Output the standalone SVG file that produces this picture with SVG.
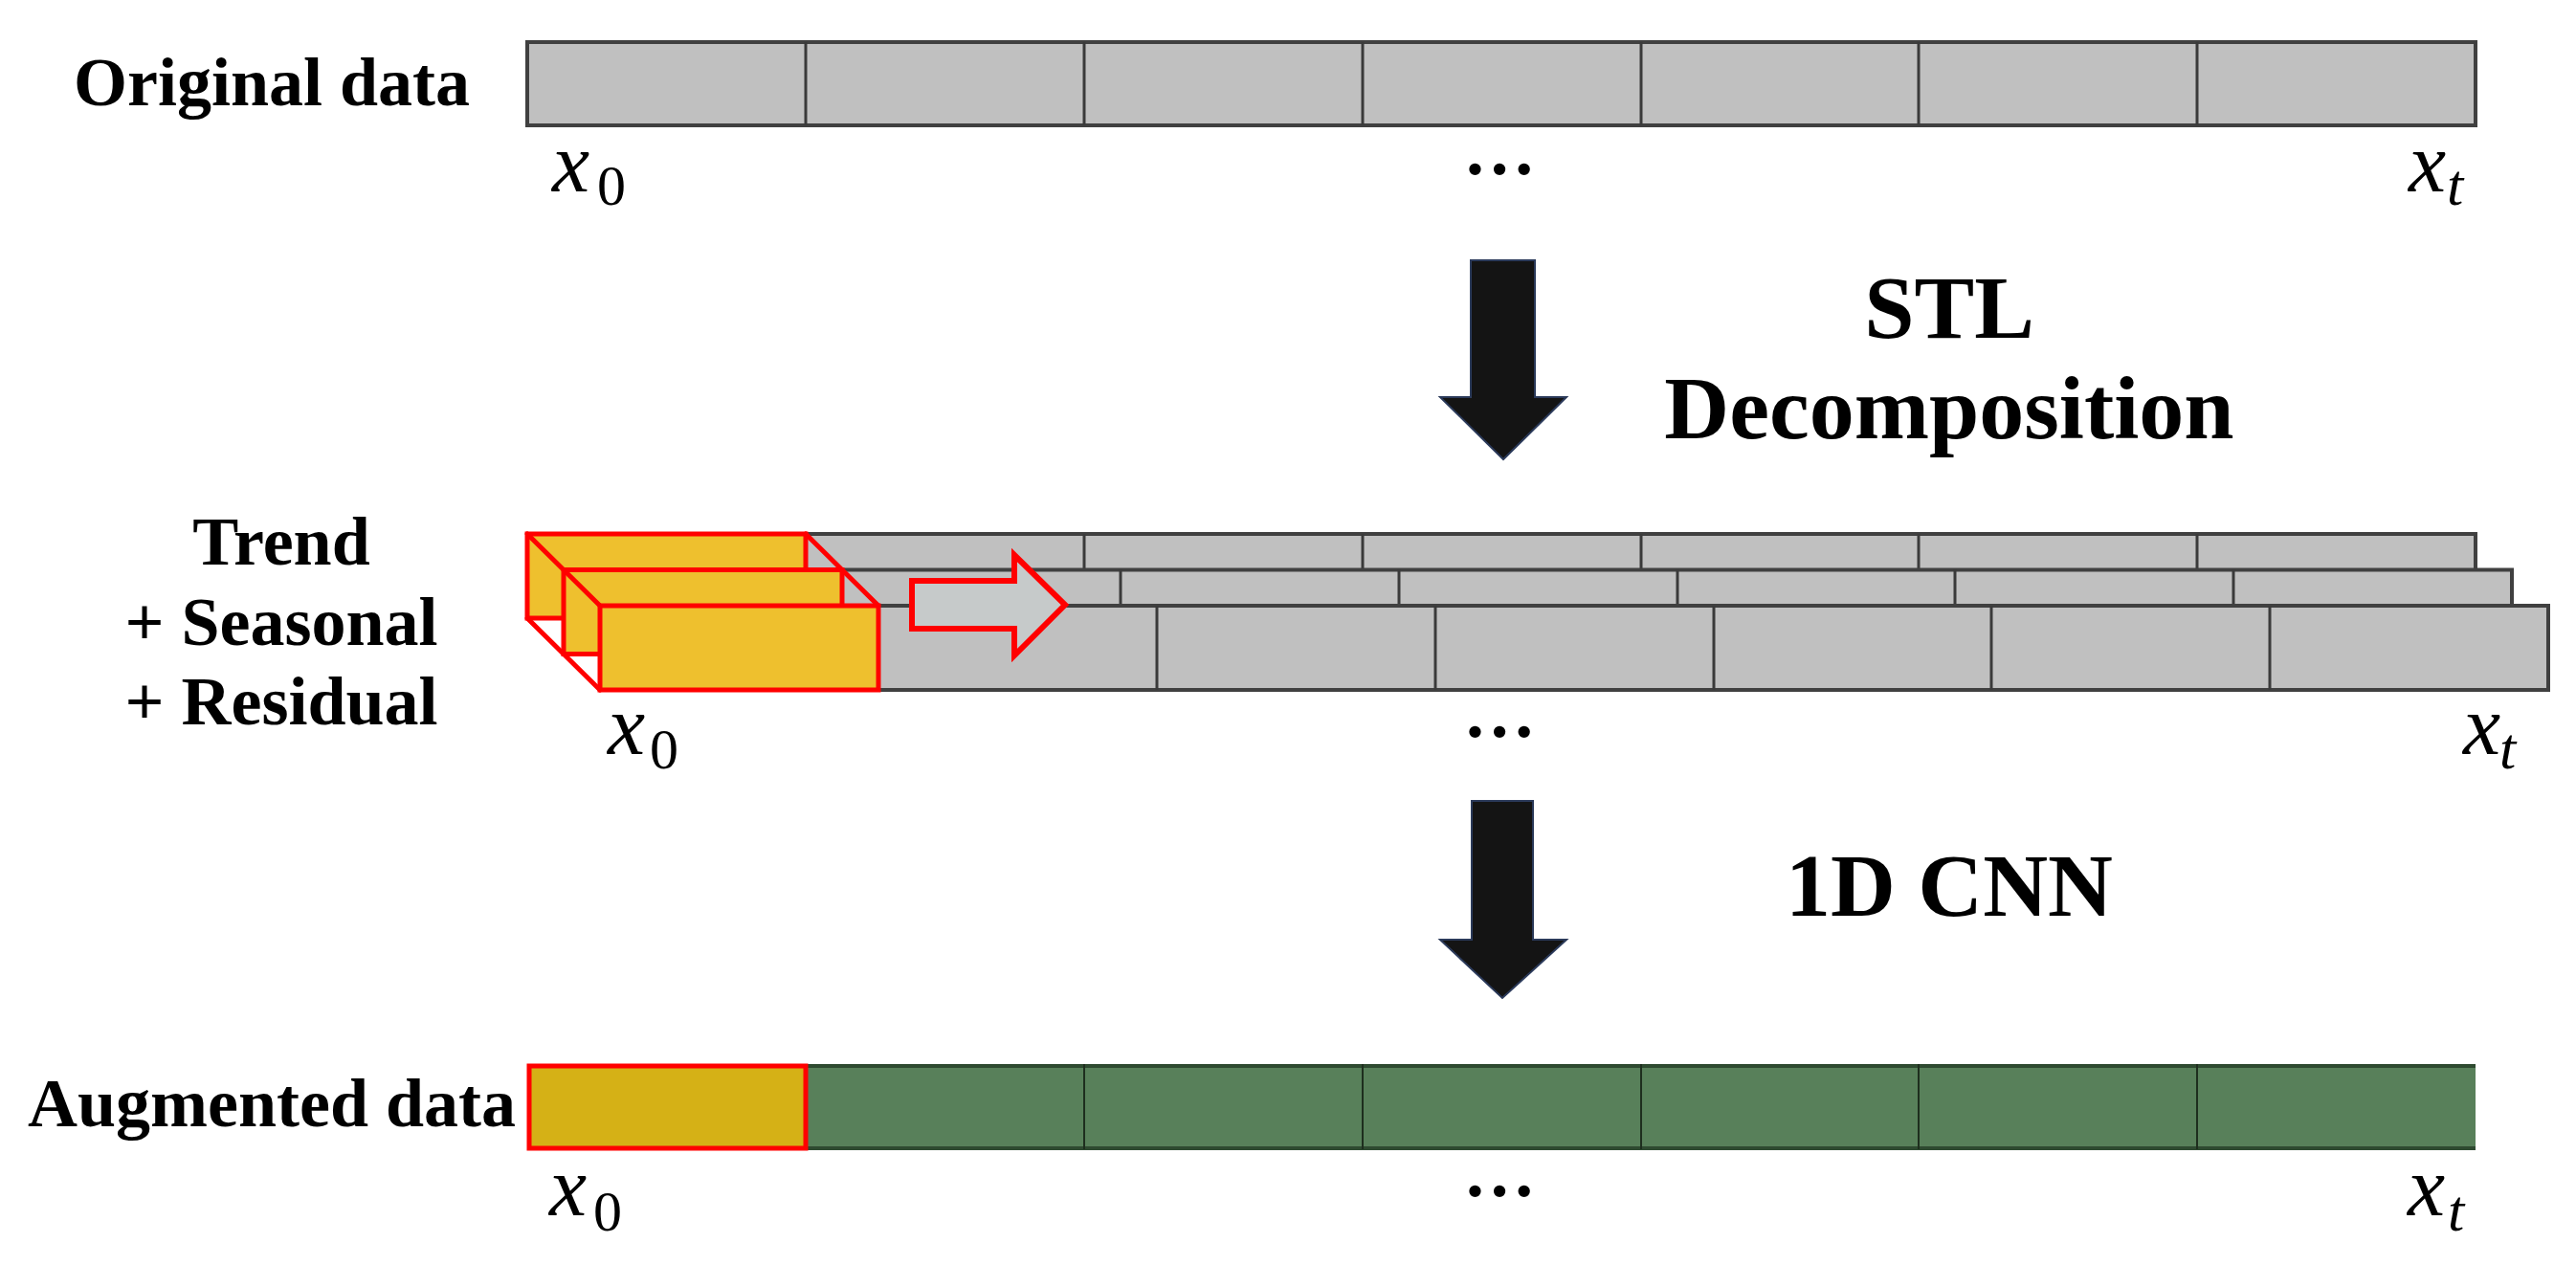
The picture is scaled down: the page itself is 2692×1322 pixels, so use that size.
<svg xmlns="http://www.w3.org/2000/svg" width="2692" height="1322" viewBox="0 0 2692 1322">
<style>
.lbl{font-family:"Liberation Serif","Times New Roman",serif;font-weight:bold;font-size:72px;fill:#000}
.big{font-family:"Liberation Serif","Times New Roman",serif;font-weight:bold;font-size:94px;fill:#000;text-anchor:middle}
.m{font-family:"Liberation Serif","Times New Roman",serif;font-style:italic;font-size:88px;fill:#000}
.s0{font-style:normal;font-size:60px}
.st{font-style:italic;font-size:62px}
.dots{font-family:"Liberation Serif","Times New Roman",serif;font-weight:bold;font-size:76px;fill:#000;text-anchor:middle}
.gray{fill:#c0c0c0;stroke:#404040;stroke-width:4}
.div{stroke:#3a3a3a;stroke-width:3}
.yel{fill:#eec02e;stroke:#ff0000;stroke-width:5}
.yel2{fill:#d5b116;stroke:#ff0000;stroke-width:5}
.green{fill:#58805a}
.gedge{stroke:#2e4a30;stroke-width:4}
.gdiv{stroke:#1e2e1e;stroke-width:2}
.red{stroke:#ff0000;stroke-width:5;fill:none;stroke-linecap:round}
.blk{fill:#141414;stroke:#2b3a5a;stroke-width:2}
</style>
<rect width="2692" height="1322" fill="#ffffff"/>

<g id="label-original">
<text class="lbl" x="491" y="110" text-anchor="end">Original data</text>
</g>

<g id="original-data">
<rect class="gray" x="551" y="44" width="2036" height="87"/>
<g class="div">
<line x1="842" y1="44" x2="842" y2="131"/><line x1="1133" y1="44" x2="1133" y2="131"/>
<line x1="1424" y1="44" x2="1424" y2="131"/><line x1="1715" y1="44" x2="1715" y2="131"/>
<line x1="2005" y1="44" x2="2005" y2="131"/><line x1="2296" y1="44" x2="2296" y2="131"/>
</g>
<text class="m" x="577" y="200">x<tspan class="s0" x="624" y="214">0</tspan></text>
<text class="dots" x="1567" y="182">…</text>
<text class="m" x="2517" y="200">x<tspan class="st" x="2557" y="214">t</tspan></text>
</g>

<g id="label-stl">
<text class="big" x="2037" y="353">STL</text>
<text class="big" x="2037" y="458">Decomposition</text>
</g>

<g id="label-components">
<text class="lbl" x="294" y="590" text-anchor="middle">Trend</text>
<text class="lbl" x="294" y="674" text-anchor="middle">+ Seasonal</text>
<text class="lbl" x="294" y="757" text-anchor="middle">+ Residual</text>
</g>

<g id="decomposed-data">
<g id="trend-bar">
<rect class="gray" x="551" y="558" width="2036" height="88"/>
<g class="div">
<line x1="1133" y1="558" x2="1133" y2="646"/><line x1="1424" y1="558" x2="1424" y2="646"/>
<line x1="1715" y1="558" x2="1715" y2="646"/><line x1="2005" y1="558" x2="2005" y2="646"/>
<line x1="2296" y1="558" x2="2296" y2="646"/>
</g>
<rect class="yel" x="551" y="558" width="291" height="88"/>
</g>
<g id="seasonal-bar">
<rect class="gray" x="589" y="595.5" width="2036" height="88"/>
<g class="div">
<line x1="1171" y1="595.5" x2="1171" y2="683.5"/><line x1="1462" y1="595.5" x2="1462" y2="683.5"/>
<line x1="1753" y1="595.5" x2="1753" y2="683.5"/><line x1="2043" y1="595.5" x2="2043" y2="683.5"/>
<line x1="2334" y1="595.5" x2="2334" y2="683.5"/>
</g>
<rect class="yel" x="589" y="595.5" width="291" height="88"/>
</g>
<g id="residual-bar">
<rect class="gray" x="627" y="633" width="2036" height="88"/>
<g class="div">
<line x1="1209" y1="633" x2="1209" y2="721"/><line x1="1500" y1="633" x2="1500" y2="721"/>
<line x1="1791" y1="633" x2="1791" y2="721"/><line x1="2081" y1="633" x2="2081" y2="721"/>
<line x1="2372" y1="633" x2="2372" y2="721"/>
</g>
<rect class="yel" x="627" y="633" width="291" height="88"/>
</g>
<g id="kernel-edges">
<line class="red" x1="551" y1="558" x2="627" y2="633"/>
<line class="red" x1="842" y1="558" x2="918" y2="633"/>
<line class="red" x1="551" y1="646" x2="627" y2="721"/>
</g>
<text class="m" x="635" y="788">x<tspan class="s0" x="679" y="803">0</tspan></text>
<text class="dots" x="1567" y="770">…</text>
<text class="m" x="2574" y="788">x<tspan class="st" x="2612" y="803">t</tspan></text>
</g>

<g id="label-cnn">
<text class="big" x="2037" y="957">1D CNN</text>
</g>

<g id="label-augmented">
<text class="lbl" x="539" y="1177" text-anchor="end">Augmented data</text>
</g>

<g id="augmented-data">
<rect class="green" x="842" y="1112" width="1745" height="89"/>
<line class="gedge" x1="842" y1="1114" x2="2587" y2="1114"/>
<line class="gedge" x1="842" y1="1200" x2="2587" y2="1200"/>
<g class="gdiv">
<line x1="1133" y1="1112" x2="1133" y2="1201"/><line x1="1424" y1="1112" x2="1424" y2="1201"/>
<line x1="1715" y1="1112" x2="1715" y2="1201"/><line x1="2005" y1="1112" x2="2005" y2="1201"/>
<line x1="2296" y1="1112" x2="2296" y2="1201"/>
</g>
<rect class="yel2" x="553" y="1114" width="289" height="86"/>
<text class="m" x="574" y="1270">x<tspan class="s0" x="620" y="1286">0</tspan></text>
<text class="dots" x="1567" y="1250">…</text>
<text class="m" x="2516" y="1270">x<tspan class="st" x="2558" y="1286">t</tspan></text>
</g>

<g id="connectors">
<polygon id="arrow-stl" class="blk" points="1537,272 1604,272 1604,415 1637,415 1571,480 1505,415 1537,415"/>
<polygon id="arrow-cnn" class="blk" points="1538,837 1602,837 1602,982 1637,982 1570,1043 1505,982 1538,982"/>
<polygon id="arrow-slide" points="953,607 1060,607 1060,580 1113,632 1060,685 1060,657 953,657" fill="#c6caca" stroke="#ff0000" stroke-width="6" stroke-linejoin="miter"/>
</g>
</svg>
